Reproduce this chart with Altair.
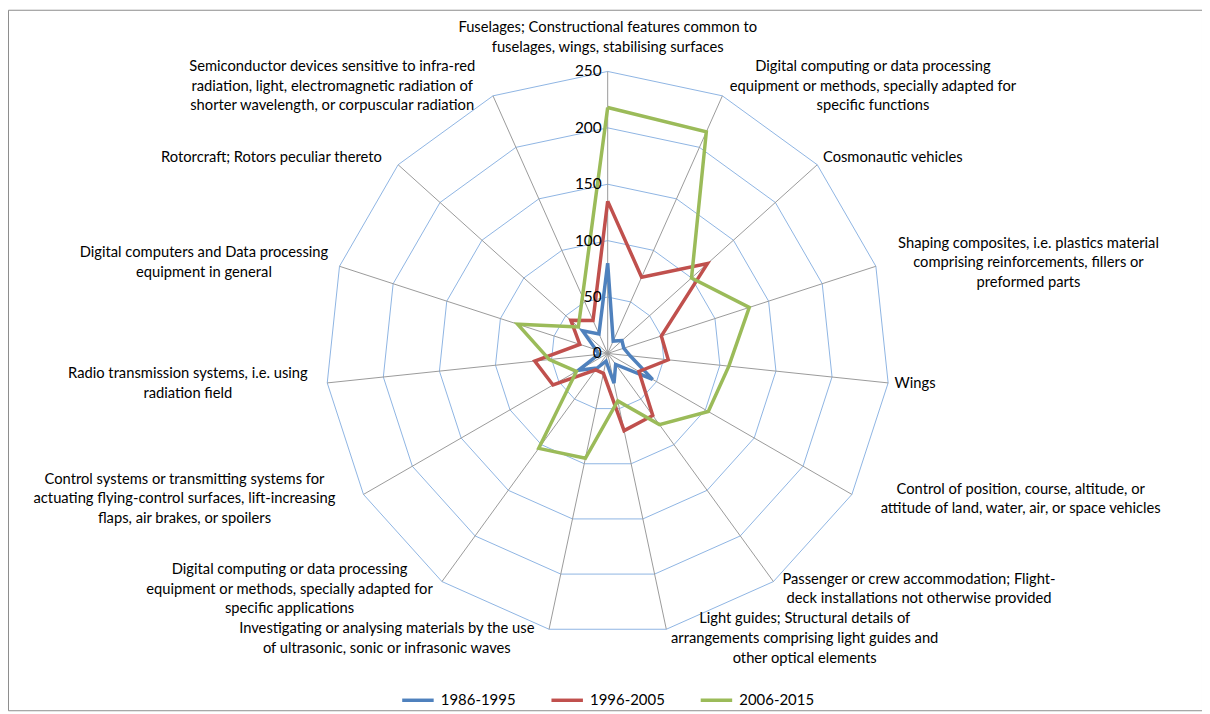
import math
import altair as alt
import pandas as pd

# ---------------- data ----------------
categories = [
    ["Fuselages; Constructional features common to", "fuselages, wings, stabilising surfaces"],
    ["Digital computing or data processing", "equipment or methods, specially adapted for", "specific functions"],
    ["Cosmonautic vehicles"],
    ["Shaping composites, i.e. plastics material", "comprising reinforcements, fillers or", "preformed parts"],
    ["Wings"],
    ["Control of position, course, altitude, or", "attitude of land, water, air, or space vehicles"],
    ["Passenger or crew accommodation; Flight-", "deck installations not otherwise provided"],
    ["Light guides; Structural details of", "arrangements comprising light guides and", "other optical elements"],
    ["Investigating or analysing materials by the use", "of ultrasonic, sonic or infrasonic waves"],
    ["Digital computing or data processing", "equipment or methods, specially adapted for", "specific applications"],
    ["Control systems or transmitting systems for", "actuating flying-control surfaces, lift-increasing", "flaps, air brakes, or spoilers"],
    ["Radio transmission systems, i.e. using", "radiation field"],
    ["Digital computers and Data processing", "equipment in general"],
    ["Rotorcraft; Rotors peculiar thereto"],
    ["Semiconductor devices sensitive to infra-red", "radiation, light, electromagnetic radiation of", "shorter wavelength, or corpuscular radiation"],
]

series_names = ["1986-1995", "1996-2005", "2006-2015"]
values_1986_1995 = [80, 12, 17, 15, 20, 46, 12, 27, 7, 16, 30, 8, 11, 30, 19]
values_1996_2005 = [135, 74, 119, 50, 54, 32, 68, 70, 18, 18, 56, 65, 26, 44, 32]
values_2006_2015 = [218, 215, 100, 132, 108, 103, 78, 43, 95, 104, 32, 52, 84, 35, 55]
series_values = [values_1986_1995, values_1996_2005, values_2006_2015]

ticks = [0, 50, 100, 150, 200, 250]
colors = ["#4F81BD", "#C0504D", "#9BBB59"]

# ---------------- layout constants ----------------
N = len(categories)
W, H = 1200, 704
K = 283.4 / 250.0          # px per value unit
CX, CY = 602.7, 345.4      # centre inside plot area (px)
XD = [-CX / K, (W - CX) / K]
YD = [-(H - CY) / K, CY / K]
CHARW = 6.85
LH = 19.7
FONT = "Lato"
FS = 14.8

# ---------------- tables ----------------
rows = []
for name, vals in zip(series_names, series_values):
    for i in range(N + 1):
        rows.append({"series": name, "idx": i, "value": vals[i % N]})
df_series = pd.DataFrame(rows)

df_grid = pd.DataFrame([{"level": t, "idx": i} for t in ticks[1:] for i in range(N + 1)])
df_spokes = pd.DataFrame([{"idx": i, "r": ticks[-1]} for i in range(N)])
df_ticks = pd.DataFrame({"tick": ticks, "label": [str(t) for t in ticks]})
df_labels = pd.DataFrame([
    {"idx": i, "text": "\n".join(lines), "nlines": len(lines), "maxlen": max(len(l) for l in lines)}
    for i, lines in enumerate(categories)
])

xs = alt.Scale(domain=XD, nice=False, zero=False)
ys = alt.Scale(domain=YD, nice=False, zero=False)
ang = f"datum.idx * 2 * PI / {N}"

grid = alt.Chart(df_grid).transform_calculate(
    x=f"datum.level * sin({ang})", y=f"datum.level * cos({ang})"
).mark_line(color="#8EB4E3", strokeWidth=1).encode(
    x=alt.X("x:Q", scale=xs, axis=None),
    y=alt.Y("y:Q", scale=ys, axis=None),
    detail="level:N",
    order="idx:Q",
)

spokes = alt.Chart(df_spokes).transform_calculate(
    x0="0", y0="0",
    x=f"datum.r * sin({ang})", y=f"datum.r * cos({ang})"
).mark_rule(color="#9A9A9A", strokeWidth=1).encode(
    x=alt.X("x0:Q", scale=xs, axis=None),
    y=alt.Y("y0:Q", scale=ys, axis=None),
    x2="x:Q",
    y2="y:Q",
)

lines = alt.Chart(df_series).transform_calculate(
    x=f"datum.value * sin({ang})", y=f"datum.value * cos({ang})"
).mark_line(strokeWidth=3.5, strokeJoin="miter").encode(
    x=alt.X("x:Q", scale=xs, axis=None),
    y=alt.Y("y:Q", scale=ys, axis=None),
    color=alt.Color(
        "series:N",
        scale=alt.Scale(domain=series_names, range=colors),
        legend=alt.Legend(
            title=None, orient="none", direction="horizontal",
            legendX=394, legendY=676, symbolType="stroke", symbolSize=1000,
            symbolStrokeWidth=3.5, labelFontSize=15, labelFont=FONT,
            labelColor="#000000", labelOffset=5, columnPadding=28, padding=0,
        ),
    ),
    order="idx:Q",
)

tick_text = alt.Chart(df_ticks).transform_calculate(x0="0").mark_text(
    align="right", baseline="middle", dx=-6, fontSize=15.5, font=FONT, color="#000000"
).encode(
    x=alt.X("x0:Q", scale=xs, axis=None),
    y=alt.Y("tick:Q", scale=ys, axis=None),
    text="label:N",
)

rl = f"({ticks[-1]} + 10 / {K})"
label_text = alt.Chart(df_labels).transform_calculate(
    s=f"sin({ang})", c=f"cos({ang})",
).transform_calculate(
    lx=f"{rl} * datum.s + (abs(datum.s) < 0.01 ? 0 : (datum.s > 0 ? 1 : -1) * datum.maxlen * {CHARW} / 2 / {K})",
    ly=f"{rl} * datum.c + (datum.idx == 0 ? ((datum.nlines - 0.5) * {LH} + 4) / {K} : (datum.nlines - 1) * {LH} / 2 / {K})",
).mark_text(
    align="center", baseline="middle", lineBreak="\n", fontSize=FS, lineHeight=LH,
    font=FONT, color="#000000"
).encode(
    x=alt.X("lx:Q", scale=xs, axis=None),
    y=alt.Y("ly:Q", scale=ys, axis=None),
    text="text:N",
)

chart = alt.layer(grid, spokes, lines, tick_text, label_text).properties(
    width=W, height=H, autosize=alt.AutoSizeParams(type="none"), padding=0
).configure_view(stroke="#8C8C8C", strokeWidth=1)

chart.save("out.html", embed_options={"renderer": "svg", "actions": False})
